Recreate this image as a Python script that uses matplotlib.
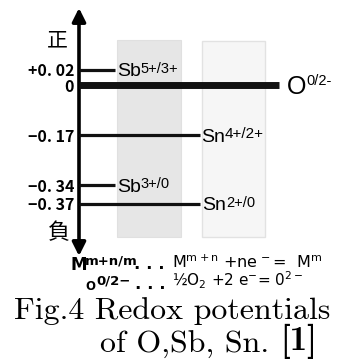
import numpy as np
import matplotlib
matplotlib.use("Agg")
import matplotlib.pyplot as plt
from matplotlib.patches import Rectangle

# ---- data ----
elements = ["Sb", "O", "Sn", "Sb", "Sn"]
couples = ["5+/3+", "0/2-", "4+/2+", "3+/0", "2+/0"]
potentials = [0.02, 0.0, -0.17, -0.34, -0.37]
tick_labels = ["+0. 02", "0", "\u22120. 17", "\u22120. 34", "\u22120. 37"]
pole_labels = ["正", "負"]

# ---- styles / layout ----
line_end = [115, 279, 200, 115, 200]
label_x = [117, 287, 201, 117, 202]
line_w = [2.3, 5.0, 2.3, 2.3, 2.3]
main_fs = [14, 18, 14, 14, 14]
sup_fs = [10.5, 10.5, 11, 10.5, 10.5]

plt.rcParams["mathtext.fontset"] = "dejavusans"
plt.rcParams["mathtext.default"] = "rm"

W, H = 342, 360
fig = plt.figure(figsize=(W / 100, H / 100), dpi=100)

# overlay axes in pixel units for decorations
pax = fig.add_axes([0, 0, 1, 1])
pax.set_xlim(0, W)
pax.set_ylim(H, 0)
pax.axis("off")

# data axes: potential scale (diagram is not drawn to scale)
kv = np.array([-1.5, -0.37, -0.34, -0.17, 0.0, 0.02, 1.0])
kp = np.array([536, 204, 185, 135, 85, 70, -218], dtype=float)


def fwd(v):
    return -np.interp(v, kv, kp)


def inv(s):
    return np.interp(-np.asarray(s), kp[::-1], kv[::-1])


ax = fig.add_axes([0, 0, 1, 1])
ax.patch.set_alpha(0)
ax.set_yscale("function", functions=(fwd, inv))
ax.set_xlim(0, W)
ax.set_ylim(float(inv(-H)), float(inv(0)))
ax.axis("off")

# shaded bands
pax.add_patch(Rectangle((117, 40), 64, 197, fc="#e6e6e6", ec="#e0e0e0", lw=0.8, zorder=0))
pax.add_patch(Rectangle((202, 41), 63, 196, fc="#f6f6f6", ec="#e2e2e2", lw=1.0, zorder=0))

# vertical double arrow
pax.annotate("", xy=(79, 8), xytext=(79, 256),
             arrowprops=dict(arrowstyle="<|-|>,head_length=0.4,head_width=0.2",
                             lw=2.6, color="black", mutation_scale=20,
                             shrinkA=0, shrinkB=0), zorder=5)

# horizontal potential lines and labels
for el, cp, v, xe, lx, lw, mfs, sfs in zip(elements, couples, potentials, line_end,
                                            label_x, line_w, main_fs, sup_fs):
    ax.hlines(v, 79, xe, colors="#111111", lw=lw, zorder=4)
    t = ax.text(lx, v, el, fontsize=mfs, family="Liberation Sans",
                ha="left", va="center_baseline", zorder=6)
    ax.annotate(cp, xy=(1.0, 1.08), xycoords=t, fontsize=sfs,
                family="Liberation Sans", ha="left", va="top", zorder=6)

# tick labels
for v, tl in zip(potentials, tick_labels):
    ax.text(74, v, tl, fontsize=11.5, family=["Noto Sans CJK JP", "DejaVu Sans"],
            weight="bold", ha="right", va="center_baseline", zorder=6)

# pole labels
pax.text(57, 40, pole_labels[0], fontsize=15, family="Noto Sans CJK JP",
         ha="center", va="center")
pax.text(59, 233, pole_labels[1], fontsize=16, family="Noto Sans CJK JP",
         ha="center", va="center")

# reaction legend
eqf = "DejaVu Sans"
pax.text(70, 270, "M", fontsize=12, family=eqf, weight="bold", ha="left", va="baseline")
pax.text(85, 265, "m+n/m", fontsize=9.5, family=eqf, weight="bold", ha="left", va="baseline")
pax.text(134, 269, ". . .", fontsize=12, family=eqf, weight="bold", ha="left", va="baseline")
pax.text(172, 268, r"M$^{\mathrm{m+n}}$ +ne$^{\,-}$=  M$^{\mathrm{m}}$", fontsize=11.5,
         family=eqf, ha="left", va="baseline")
pax.text(85, 290, "O", fontsize=8.5, family=eqf, weight="bold", ha="left", va="baseline")
pax.text(96, 285, "0/2\u2212", fontsize=9.5, family=eqf, weight="bold", ha="left", va="baseline")
pax.text(135, 289, ". . .", fontsize=12, family=eqf, weight="bold", ha="left", va="baseline")
pax.text(172, 286, "\u00bdO$_{2}$ +2 e$^{-}$= 0$^{\mathrm{2-}}$", fontsize=11,
         family=eqf, ha="left", va="baseline")

# caption
capf = ["cmr10", "DejaVu Serif"]
pax.text(14, 319, "Fig.4 Redox potentials", fontsize=23, family=capf,
         ha="left", va="baseline")
t2 = pax.text(100, 353, "of O,Sb, Sn. ", fontsize=23, family=capf,
              ha="left", va="baseline")
pax.annotate("[1]", xy=(1.0, 0.0), xycoords=t2, fontsize=25, family=["cmb10", "DejaVu Serif"],
             ha="left", va="bottom")

fig.savefig("out.png", dpi=100)
